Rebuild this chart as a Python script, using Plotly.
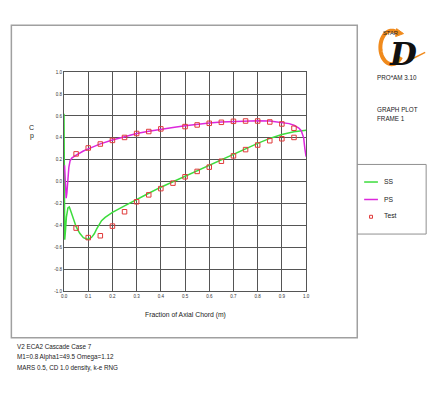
import numpy as np
import plotly.graph_objects as go

W, H = 439, 399

# ---------------- data ----------------
ss_x = [0.0, 0.0, 0.001, 0.003, 0.006, 0.010, 0.016, 0.022, 0.030, 0.040, 0.050, 0.065,
        0.080, 0.095, 0.105, 0.115, 0.125, 0.135, 0.145, 0.155, 0.170, 0.200, 0.250,
        0.300, 0.350, 0.400, 0.450, 0.500, 0.550, 0.600, 0.650, 0.700, 0.750, 0.800,
        0.850, 0.900, 0.950, 0.980, 1.000]
ss_cp = [0.62, 0.30, -0.20, -0.53, -0.45, -0.32, -0.24, -0.23, -0.28, -0.35, -0.41, -0.47,
         -0.51, -0.525, -0.52, -0.505, -0.475, -0.43, -0.385, -0.355, -0.325, -0.28, -0.22,
         -0.16, -0.105, -0.05, 0.0, 0.05, 0.10, 0.155, 0.20, 0.25, 0.30, 0.35,
         0.395, 0.43, 0.455, 0.465, 0.47]

ps_x = [0.002, 0.004, 0.007, 0.009, 0.012, 0.016, 0.020, 0.025, 0.032, 0.045, 0.06, 0.08,
        0.10, 0.15, 0.20, 0.25, 0.30, 0.35, 0.40, 0.45, 0.50, 0.55, 0.60, 0.65, 0.70,
        0.75, 0.80, 0.85, 0.90, 0.93, 0.95, 0.97, 0.98, 0.99, 0.995, 1.0]
ps_cp = [0.15, 0.05, -0.10, -0.15, -0.10, 0.02, 0.13, 0.19, 0.215, 0.235, 0.255, 0.28,
         0.30, 0.345, 0.38, 0.41, 0.44, 0.46, 0.48, 0.495, 0.51, 0.525, 0.535, 0.545, 0.55,
         0.555, 0.557, 0.555, 0.54, 0.53, 0.515, 0.49, 0.465, 0.40, 0.30, 0.23]

test_ps_x = [0.05, 0.10, 0.15, 0.20, 0.25, 0.30, 0.35, 0.40, 0.50, 0.55, 0.60, 0.65,
             0.70, 0.75, 0.80, 0.85, 0.90, 0.95]
test_ps_cp = [0.254, 0.308, 0.344, 0.377, 0.404, 0.44, 0.458, 0.482, 0.503, 0.518, 0.533,
              0.542, 0.551, 0.554, 0.554, 0.545, 0.527, 0.488]
test_ss_x = [0.05, 0.10, 0.15, 0.20, 0.25, 0.30, 0.35, 0.40, 0.45, 0.50, 0.55, 0.60,
             0.65, 0.70, 0.75, 0.80, 0.85, 0.90, 0.95]
test_ss_cp = [-0.423, -0.51, -0.493, -0.405, -0.274, -0.183, -0.12, -0.063, -0.013, 0.045,
              0.094, 0.133, 0.187, 0.236, 0.293, 0.335, 0.374, 0.392, 0.404]

x_ticks = [0.0, 0.1, 0.2, 0.3, 0.4, 0.5, 0.6, 0.7, 0.8, 0.9, 1.0]
y_ticks = [-1.0, -0.8, -0.6, -0.4, -0.2, 0.0, 0.2, 0.4, 0.6, 0.8, 1.0]

SS_COL = "#3ddc3d"
PS_COL = "#dc28dc"
TEST_COL = "#e03a3a"
FONT = "Liberation Sans"

def px(x):
    return x / W

def py(y):
    return 1 - y / H

fig = go.Figure()
fig.add_trace(go.Scatter(x=ss_x, y=ss_cp, mode="lines", name="SS",
                         line=dict(color=SS_COL, width=1.5), showlegend=False))
fig.add_trace(go.Scatter(x=ps_x, y=ps_cp, mode="lines", name="PS",
                         line=dict(color=PS_COL, width=1.5), showlegend=False))
fig.add_trace(go.Scatter(x=test_ps_x + test_ss_x, y=test_ps_cp + test_ss_cp, mode="markers",
                         name="Test", showlegend=False,
                         marker=dict(symbol="square-open", size=4.5, color=TEST_COL,
                                     line=dict(width=1, color=TEST_COL))))

axis_common = dict(showgrid=True, gridcolor="#555555", gridwidth=1, zeroline=False,
                   showline=True, linecolor="#555555", linewidth=1, mirror=True,
                   ticks="", tickfont=dict(family=FONT, size=4.5, color="#333"))

fig.update_layout(
    width=W, height=H, margin=dict(l=0, r=0, t=0, b=0),
    paper_bgcolor="white", plot_bgcolor="white",
    xaxis=dict(range=[0, 1], domain=[px(62), px(308)], tickvals=x_ticks,
               ticktext=[f"{v:.1f}" for v in x_ticks], **axis_common),
    yaxis=dict(range=[-1, 1], domain=[py(293), py(71)], tickvals=y_ticks,
               ticktext=[f"{v:.1f}" for v in y_ticks], **axis_common),
    font=dict(family=FONT),
)

shapes = []
# outer frame
shapes.append(dict(type="rect", xref="paper", yref="paper", x0=px(8.5), x1=px(360),
                   y0=py(340), y1=py(23.5), line=dict(color="#a0a0a0", width=1.5)))
# legend box (right, top, bottom)
for (x0, y0, x1, y1) in [(360, 164.5, 430, 164.5), (430, 164.5, 430, 235),
                         (360, 235, 430, 235)]:
    shapes.append(dict(type="line", xref="paper", yref="paper", x0=px(x0), x1=px(x1),
                       y0=py(y0), y1=py(y1), line=dict(color="#909090", width=1)))
# legend samples
shapes.append(dict(type="line", xref="paper", yref="paper", x0=px(367), x1=px(381),
                   y0=py(182.3), y1=py(182.3), line=dict(color=SS_COL, width=1.5)))
shapes.append(dict(type="line", xref="paper", yref="paper", x0=px(367), x1=px(381),
                   y0=py(200), y1=py(200), line=dict(color=PS_COL, width=1.5)))
shapes.append(dict(type="rect", xref="paper", yref="paper", x0=px(372.5), x1=px(375.5),
                   y0=py(219), y1=py(216), line=dict(color=TEST_COL, width=1)))

# logo: orange arc
th = np.linspace(np.radians(55), np.radians(325), 40)
cx, cy, rx, ry = 395, 46, 11.5, 17
pts = [(px(cx + rx * np.cos(t)), py(cy - ry * np.sin(t))) for t in th]
path = "M " + " L ".join(f"{a:.5f},{b:.5f}" for a, b in pts)
shapes.append(dict(type="path", xref="paper", yref="paper", path=path,
                   line=dict(color="#f08a1c", width=4)))
# arrowhead on top of the arc
shapes.append(dict(type="path", xref="paper", yref="paper",
                   path=f"M {px(400):.5f},{py(27):.5f} L {px(407):.5f},{py(32):.5f} L {px(399):.5f},{py(35):.5f} Z",
                   fillcolor="#f08a1c", line=dict(color="#f08a1c", width=1)))
# swoosh
shapes.append(dict(type="line", xref="paper", yref="paper", x0=px(405), x1=px(429),
                   y0=py(63), y1=py(51), line=dict(color="#f08a1c", width=1.5)))
fig.update_layout(shapes=shapes)

ann = []
def txt(x, y, s, size=6.5, anchor="left", **kw):
    ann.append(dict(x=px(x), y=py(y), xref="paper", yref="paper", text=s, showarrow=False,
                    xanchor=anchor, yanchor="middle",
                    font=dict(family=kw.get("family", FONT), size=size,
                              color=kw.get("color", "#222"),
                              style=kw.get("style", "normal"),
                              weight=kw.get("weight", "normal"))))

txt(29, 127, "C", 7, "center")
txt(29, 136, "p", 7, "center")
txt(185, 317, "Fraction of Axial Chord (m)", 6.8, "center")
txt(12, 349, "V2 ECA2 Cascade Case 7", 6.3)
txt(12, 360, "M1=0.8 Alpha1=49.5 Omega=1.12", 6.3)
txt(12, 371, "MARS 0.5, CD 1.0 density, k-e RNG", 6.3)
txt(385, 182, "SS", 6.8)
txt(385, 199.5, "PS", 6.8)
txt(385, 216.5, "Test", 6.8)
txt(378, 76, "PRO*AM 3.10", 6.3)
txt(378, 109, "GRAPH PLOT", 6.3)
txt(378, 118, "FRAME 1", 6.3)
txt(384, 31, "STAR", 5.8)
txt(406, 53, "D", 31, "center", family="DejaVu Serif", style="italic", weight="bold",
    color="#111")
fig.update_layout(annotations=ann)

fig.write_html("out.html")
